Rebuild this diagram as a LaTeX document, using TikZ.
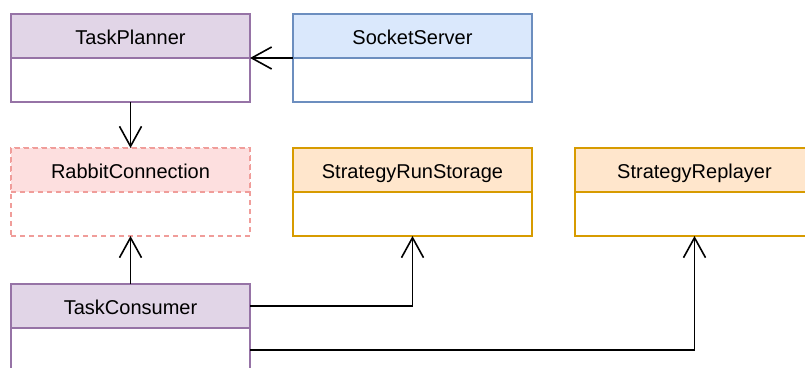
\documentclass[tikz,border=0pt]{standalone}
\usepackage{fontspec}
\setmainfont{Liberation Sans}
\usetikzlibrary{arrows.meta,calc}

\definecolor{purpleLine}{HTML}{9673A6}
\definecolor{purpleFill}{HTML}{E1D5E7}
\definecolor{blueLine}{HTML}{6C8EBF}
\definecolor{blueFill}{HTML}{DAE8FC}
\definecolor{orangeLine}{HTML}{D79B00}
\definecolor{orangeFill}{HTML}{FFE6CC}
\definecolor{redLine}{HTML}{F09D9A}
\definecolor{redFill}{HTML}{FDDFDF}

\tikzset{
  classbody/.style={fill=white, line width=1.3pt, minimum width=239pt,
    minimum height=88pt, anchor=north west, inner sep=0pt, outer sep=0pt},
  classhead/.style={line width=1.3pt, minimum width=239pt, minimum height=44pt,
    anchor=north, inner sep=0pt, outer sep=0pt, text height=16pt, text depth=0pt,
    font=\fontsize{20}{24}\selectfont},
  dashedline/.style={dash pattern=on 5pt off 4pt},
  link/.style={draw=black, line width=1.6pt,
    -{Straight Barb[length=20pt,width=22pt]}}
}

% class box: name, x, y, outline style, header fill, title
\newcommand{\umlclass}[6]{%
  \node[classbody, #4] (#1) at (#2,#3) {};
  \node[classhead, #4, fill=#5] (#1-t) at (#1.north) {#6};
}

\begin{document}
\begin{tikzpicture}[x=1pt, y=-1pt]
  \useasboundingbox (0,0) rectangle (805,367);
  \clip (0,0) rectangle (805,367);

  \umlclass{tp}{11}{14}{draw=purpleLine}{purpleFill}{TaskPlanner}
  \umlclass{ss}{293}{14}{draw=blueLine}{blueFill}{SocketServer}
  \umlclass{rc}{11}{148}{draw=redLine, dashedline}{redFill}{RabbitConnection}
  \umlclass{srs}{293}{148}{draw=orangeLine}{orangeFill}{StrategyRunStorage}
  \umlclass{sr}{575}{148}{draw=orangeLine}{orangeFill}{StrategyReplayer}
  \umlclass{tc}{11}{284}{draw=purpleLine}{purpleFill}{TaskConsumer}

  \coordinate (tc-b) at ($(tc.south east)!0.5!(tc-t.south east)$);

  \draw[link] (ss-t.south west) -- (tp-t.south east);
  \draw[link] (tp.south) -- (rc-t.north);
  \draw[link] (tc-t.north) -- (rc.south);
  \draw[link] (tc-t.east) -| (srs.south);
  \draw[link] (tc-b) -| (sr.south);
\end{tikzpicture}
\end{document}
